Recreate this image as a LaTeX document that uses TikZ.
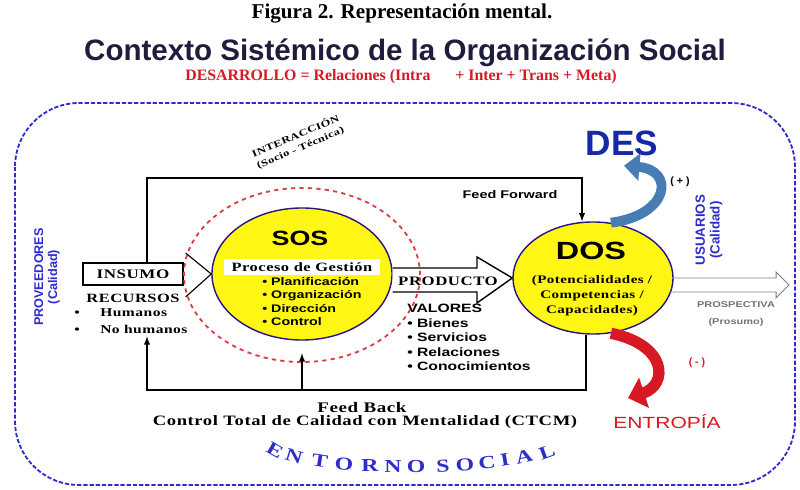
\documentclass[tikz,border=0pt]{standalone}
\usepackage{fontspec}
\setmainfont{Liberation Serif}
\setsansfont{Liberation Sans}
\newfontfamily\wideserif{Liberation Serif}[FakeStretch=1.3, LetterSpace=4]
\newfontfamily\widesans{Liberation Sans}[FakeStretch=1.3]
\usepackage{xcolor}
\usepackage{tikz}
\usetikzlibrary{shapes,arrows,arrows.meta,positioning,calc}

\definecolor{sosyellow}{RGB}{255,246,20}
\definecolor{navyline}{RGB}{40,20,130}
\definecolor{entornoblue}{RGB}{45,45,205}
\definecolor{desblue}{RGB}{20,40,170}
\definecolor{ribbonblue}{RGB}{70,125,180}
\definecolor{titlenavy}{RGB}{30,30,60}
\definecolor{desred}{RGB}{215,25,35}

\tikzset{
  core/.style={ellipse, draw=navyline, line width=1pt, fill=sosyellow, inner sep=0pt},
  wserif/.style={font=\wideserif\bfseries\fontsize{#1}{#1}\selectfont, inner sep=0pt},
  wserif/.default=9,
  wsans/.style={font=\widesans\bfseries\fontsize{#1}{#1}\selectfont, inner sep=0pt},
  wsans/.default=8,
  bsans/.style={font=\sffamily\bfseries\fontsize{#1}{#1}\selectfont, inner sep=0pt},
  bsans/.default=8,
  feedline/.style={line width=1pt, -latex},
  vlabel/.style={bsans=#1, text=entornoblue, rotate=90, align=center},
}

\begin{document}
\begin{tikzpicture}[x=0.025cm, y=-0.025cm]
\useasboundingbox (0,0) rectangle (800,490);

% Titles
\node[font=\bfseries\fontsize{15}{15}\selectfont, inner sep=0pt] (figura) at (402,14) {Figura 2. Representación mental.};
\node[bsans=21, text=titlenavy] (contexto) at (405,53) {Contexto Sistémico de la Organización Social};
\node[font=\bfseries\fontsize{11.3}{11.3}\selectfont, text=desred, inner sep=0pt, anchor=west] (desarrollo) at (185,77) {DESARROLLO = Relaciones (Intra};
\node[font=\bfseries\fontsize{11.3}{11.3}\selectfont, text=desred, inner sep=0pt, anchor=west] (metas) at (455,77) {+ Inter + Trans + Meta)};

% Entorno social
\draw[entornoblue, line width=1.3pt, dash pattern=on 3pt off 1.4pt, rounded corners=1.6cm] (15,103) rectangle (795,485);
\foreach \ch/\px/\py/\rot [count=\i] in {E/275/450/-30, N/294/456/-17, T/320/461/-9, O/344/464/-4, R/370/466/0,
    N/393/467/0, O/416/467/0, S/443/466/3, O/465/465/4, C/487/463/6, I/505/460/10, A/524/457/13, L/547/452/20}
    \node[wserif=13, text=entornoblue, rotate=\rot] (ent\i) at (\px,\py) {\ch};

% Suppliers and users
\node[vlabel=9] (proveedores) at (47,277) {PROVEEDORES\\[1pt](Calidad)};
\node[vlabel=9.5] (usuarios) at (709,230) {USUARIOS\\[1pt](Calidad)};

% Input
\node[draw, line width=0.8pt, minimum width=2.5cm, minimum height=0.55cm, wserif=9.3] (insumo) at (133,274) {INSUMO};
\node[wserif=9] (recursos) at (133,298) {RECURSOS};
\node[wserif=8.5, anchor=west] (humanos) at (74,313) {\makebox[0.65cm][l]{•}Humanos};
\node[wserif=8.5, anchor=west] (nohumanos) at (74,329) {\makebox[0.65cm][l]{•}No humanos};

% Main systems
\node[core, minimum width=4.5cm, minimum height=3.3cm] (sos) at (302,274) {};
\node[core, minimum width=4cm, minimum height=2.8cm] (dos) at (593,278) {};

% Interaction loop
\coordinate (ffa) at (147,178);
\coordinate (ffb) at (582,178);
\draw[feedline] (insumo.north -| ffa) -- (ffa) -- (ffb) -- (ffb |- dos.north);
\node[wserif=6.8, rotate=23, align=center] (interaccion) at (298,142) {INTERACCIÓN\\[2pt](Socio - Técnica)};
\node[wsans=7.9] (feedforward) at (510,195) {Feed Forward};

% Feed back loop
\coordinate (fba) at (586,390);
\coordinate (fbb) at (147,390);
\draw[feedline] (dos.south -| fba) -- (fba) -- (fbb) -- ($(nohumanos.south -| fbb)+(0,3)$);
\draw[feedline, shorten >=9pt] (sos.south |- fba) -- (sos.south);
\node[wserif=10.4] (feedback) at (362,407) {Feed Back};
\node[wserif=10.2] (ctcm) at (365,422) {Control Total de Calidad con Mentalidad (CTCM)};

% Input arrow head
\draw[line width=0.8pt] ($(insumo.east)+(2,-21)$) -- (sos.west) -- ($(insumo.east)+(2,23)$);

% SOS content
\node[wsans=14.7] (soslabel) at (300,238) {SOS};
\node[fill=white, minimum width=3.9cm, minimum height=0.42cm, wserif=9, inner sep=0pt] (proceso) at (302,267) {Proceso de Gestión};
\node[wsans=7.8, align=left, anchor=north west, font=\widesans\bfseries\fontsize{7.8}{9.5}\selectfont] (gestion) at (262,277)
  {• Planificación\\• Organización\\• Dirección\\• Control};

% Product arrow
\draw[line width=1pt, fill=white] ($(sos.east)+(0,-6)$) -- (477,268) -- (477,257) -- (dos.west) -- (477,303) -- (477,292) -- ($(sos.east)+(0,18)$);
\node[wserif=9.2] (producto) at (448,281) {PRODUCTO};
\node[wsans=8.6, align=left, anchor=north west, font=\widesans\bfseries\fontsize{8.6}{10.3}\selectfont] (valores) at (407,304)
  {VALORES\\• Bienes\\• Servicios\\• Relaciones\\• Conocimientos};

% Management ring
\node[ellipse, draw=desred!85, line width=1.3pt, dashed, minimum width=5.9cm, minimum height=4.35cm] (sosring) at (302,275) {};

% DOS content
\node[wsans=17.7] (doslabel) at (591,251) {DOS};
\node[wserif=8.2, align=center, font=\wideserif\bfseries\fontsize{8.2}{10.7}\selectfont] (capacidades) at (592,296)
  {(Potencialidades /\\Competencias /\\Capacidades)};

% Prospective output
\coordinate (prosptip) at (789,285);
\draw[gray, line width=0.7pt] ($(dos.east)+(-1,0)$) -- (776,278) -- (776,272) -- (prosptip) -- (776,298) -- (776,292) -- ($(dos.east)+(-4,14)$);
\node[wsans=6, text=gray!90!black, align=center, font=\widesans\bfseries\fontsize{6}{12}\selectfont] (prospectiva) at (736,314) {PROSPECTIVA\\(Prosumo)};

% Development and entropy
\node[bsans=25, text=desblue] (des) at (622,143) {DES};
\draw[ribbonblue, line width=7pt, -{Triangle[width=19pt,length=11pt]}] (dos.72) .. controls (670,215) and (675,170) .. ($(des.south)+(2,10)$);
\node[bsans=7.5] (plus) at (680,182) {( + )};
\node[font=\widesans\fontsize{11.5}{11.5}\selectfont, text=desred, inner sep=0pt] (entropia) at (667,422) {ENTROPÍA};
\coordinate (entin) at (628,398);
\draw[desred, line width=8pt, -{Triangle[width=22pt,length=12pt]}] (dos.-72) .. controls (668,345) and (668,385) .. (entin);
\node[bsans=7.5, text=desred] (minus) at (697,363) {( - )};
\end{tikzpicture}
\end{document}
